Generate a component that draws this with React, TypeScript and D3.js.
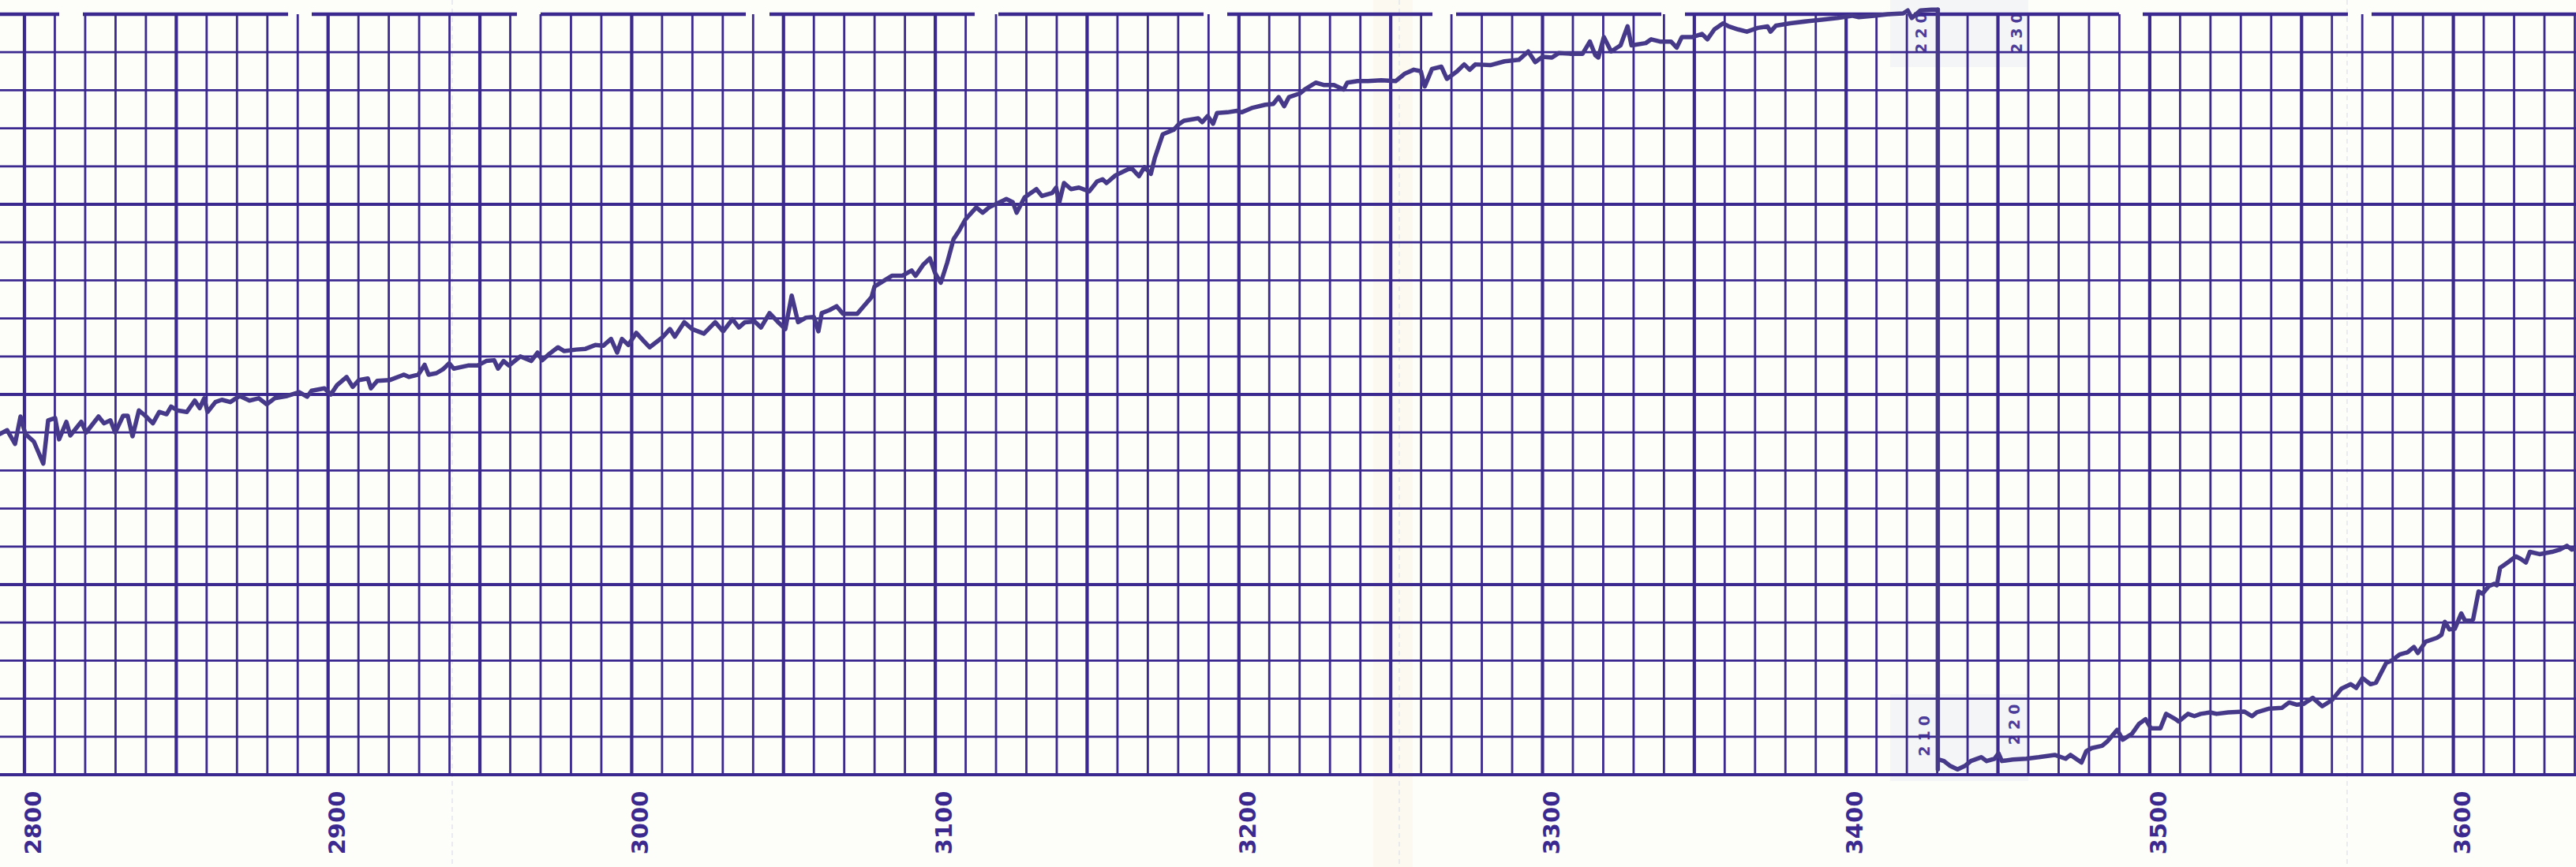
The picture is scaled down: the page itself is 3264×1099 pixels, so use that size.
import React from "react";
import * as d3 from "d3";

// ---------- data (wavenumber, % transmittance) ----------
const upperTrace: [number, number][] = [
  [2791.9, 44.8], [2794.3, 45.3], [2796.9, 43.5], [2798.7, 47.1], [2800.3, 44.8], [2803.1, 43.8],
  [2806.2, 40.9], [2807.8, 46.6], [2810.1, 46.9], [2811.4, 44.1], [2813.8, 46.4], [2815.1, 44.6],
  [2818.7, 46.4], [2820.3, 45.0], [2824.4, 47.1], [2826.2, 46.2], [2828.3, 46.6], [2829.9, 45.0],
  [2832.5, 47.2], [2834.0, 47.2], [2835.6, 44.5], [2837.7, 47.9], [2839.8, 47.2], [2842.3, 46.2],
  [2844.4, 47.7], [2846.8, 47.4], [2848.3, 48.4], [2850.4, 47.9], [2853.5, 47.7], [2856.1, 49.2],
  [2857.7, 48.2], [2859.2, 49.5], [2860.3, 47.7], [2862.9, 49.0], [2865.0, 49.3], [2867.8, 49.0],
  [2870.9, 49.8], [2874.1, 49.2], [2877.2, 49.5], [2879.8, 48.7], [2882.4, 49.5], [2886.5, 49.8],
  [2890.5, 50.3], [2893.1, 49.7], [2894.6, 50.5], [2898.8, 50.8], [2900.9, 50.0], [2902.9, 51.2],
  [2906.1, 52.3], [2908.1, 51.0], [2910.2, 51.9], [2913.1, 52.1], [2914.1, 50.8], [2916.2, 51.8],
  [2920.4, 51.9], [2925.0, 52.6], [2926.6, 52.3], [2929.7, 52.6], [2931.8, 53.9], [2933.1, 52.6],
  [2935.7, 52.8], [2937.8, 53.3], [2939.9, 54.1], [2941.4, 53.4], [2946.1, 53.8], [2949.2, 53.8],
  [2952.1, 54.4], [2954.7, 54.5], [2956.0, 53.4], [2957.8, 54.4], [2959.6, 53.8], [2963.3, 55.0],
  [2966.9, 54.4], [2969.0, 55.5], [2970.5, 54.5], [2973.1, 55.4], [2975.7, 56.2], [2977.8, 55.7],
  [2981.7, 55.9], [2984.8, 56.0], [2988.0, 56.5], [2990.6, 56.4], [2993.2, 57.3], [2995.2, 55.5],
  [2996.8, 57.3], [2998.9, 56.5], [3001.5, 58.1], [3003.8, 57.1], [3005.9, 56.2], [3008.5, 57.0],
  [3010.1, 57.5], [3012.6, 58.6], [3014.2, 57.6], [3017.3, 59.5], [3019.9, 58.6], [3023.8, 58.0],
  [3027.5, 59.5], [3030.1, 58.3], [3033.2, 59.9], [3035.3, 58.8], [3037.3, 59.5], [3040.5, 59.6],
  [3042.6, 58.8], [3045.4, 60.7], [3048.0, 59.6], [3050.6, 58.6], [3052.7, 63.0], [3054.8, 59.5],
  [3057.4, 60.1], [3060.0, 60.2], [3061.5, 58.3], [3062.6, 60.7], [3065.2, 61.1], [3067.5, 61.6],
  [3069.6, 60.6], [3074.3, 60.6], [3076.4, 61.6], [3079.0, 62.8], [3080.0, 64.2], [3085.7, 65.6],
  [3089.1, 65.6], [3092.2, 66.3], [3093.5, 65.6], [3096.1, 67.1], [3098.2, 67.9], [3100.0, 65.9],
  [3101.8, 64.7], [3103.9, 67.3], [3106.0, 70.4], [3107.8, 71.5], [3109.9, 73.0], [3113.5, 74.6],
  [3115.6, 73.9], [3117.7, 74.6], [3121.3, 75.3], [3123.4, 75.7], [3125.5, 75.3], [3126.8, 73.9],
  [3129.4, 75.9], [3133.3, 77.0], [3135.1, 76.1], [3138.5, 76.5], [3139.8, 77.2], [3140.8, 75.2],
  [3142.4, 77.8], [3144.7, 77.0], [3147.3, 77.2], [3150.7, 76.7], [3153.3, 78.0], [3155.1, 78.3],
  [3156.4, 77.8], [3159.3, 78.8], [3161.9, 79.3], [3164.5, 79.8], [3167.1, 78.7], [3168.9, 79.9],
  [3171.0, 79.0], [3172.3, 81.1], [3174.9, 84.2], [3178.5, 84.8], [3180.1, 85.5], [3181.9, 86.0],
  [3186.6, 86.3], [3187.9, 85.8], [3189.7, 86.6], [3191.5, 85.6], [3192.8, 87.0], [3196.2, 87.1],
  [3199.3, 87.3], [3200.9, 87.1], [3204.5, 87.7], [3208.7, 88.1], [3211.3, 88.2], [3213.1, 89.1],
  [3214.9, 87.9], [3216.5, 89.1], [3220.2, 89.6], [3221.7, 90.1], [3225.3, 91.0], [3227.9, 90.7],
  [3231.3, 90.7], [3234.5, 90.1], [3235.7, 91.0], [3239.1, 91.2], [3242.5, 91.2], [3246.9, 91.3],
  [3251.6, 91.2], [3254.7, 92.2], [3257.6, 92.7], [3259.9, 92.5], [3261.2, 90.5], [3263.6, 92.8],
  [3266.7, 93.1], [3268.5, 91.5], [3271.9, 92.5], [3274.2, 93.4], [3276.0, 92.7], [3277.9, 93.4],
  [3282.8, 93.3], [3287.5, 93.8], [3292.2, 94.0], [3295.3, 95.1], [3297.6, 93.7], [3300.0, 94.4],
  [3303.1, 94.3], [3305.4, 94.9], [3309.0, 94.8], [3313.2, 94.8], [3315.6, 96.4], [3317.4, 94.6],
  [3318.4, 94.3], [3320.2, 97.0], [3322.6, 95.1], [3325.7, 95.9], [3328.0, 98.4], [3329.3, 95.9],
  [3334.0, 96.2], [3335.8, 96.7], [3338.7, 96.4], [3342.3, 96.4], [3344.2, 95.6], [3345.9, 97.0],
  [3349.4, 97.0], [3352.5, 97.4], [3354.3, 96.7], [3356.6, 98.0], [3359.5, 98.8], [3361.3, 98.4],
  [3364.4, 98.0], [3367.3, 97.7], [3370.9, 98.2], [3374.1, 98.4], [3375.1, 97.7], [3376.9, 98.5],
  [3381.6, 98.8], [3387.6, 99.1], [3392.5, 99.3], [3397.2, 99.5], [3401.9, 99.8], [3404.2, 99.6],
  [3409.2, 99.8], [3413.8, 100.0], [3418.8, 100.1], [3420.3, 100.5], [3421.6, 99.5], [3424.5, 100.5],
  [3428.1, 100.6], [3430.2, 100.6],
];

// pen return stroke (vertical)
const penReturn: [number, number][] = [
  [3430.2, 100.6], [3430.2, 0.7],
];

const lowerTrace: [number, number][] = [
  [3430.4, 2.0], [3432.2, 1.8], [3434.1, 1.2], [3436.7, 0.7], [3439.3, 1.2], [3441.1, 1.8],
  [3444.5, 2.3], [3446.3, 1.8], [3448.9, 2.1], [3450.2, 2.8], [3451.3, 1.8], [3454.9, 2.0],
  [3459.3, 2.1], [3463.5, 2.3], [3468.7, 2.6], [3472.3, 2.1], [3473.9, 2.6], [3477.5, 1.6],
  [3479.1, 3.1], [3480.9, 3.5], [3484.3, 3.8], [3486.1, 4.4], [3489.3, 5.9], [3491.1, 4.6],
  [3494.2, 5.4], [3496.5, 6.7], [3498.6, 7.3], [3500.4, 6.1], [3503.5, 6.1], [3505.4, 8.0],
  [3508.5, 7.3], [3509.5, 7.0], [3512.6, 8.0], [3514.7, 7.7], [3516.8, 8.0], [3519.9, 8.2],
  [3522.0, 8.0], [3525.9, 8.2], [3531.1, 8.3], [3533.7, 7.7], [3535.3, 8.2], [3539.4, 8.7],
  [3543.6, 8.8], [3545.9, 9.5], [3548.5, 9.2], [3550.6, 9.3], [3553.7, 10.1], [3556.8, 9.0],
  [3560.0, 9.8], [3563.1, 11.3], [3566.2, 11.9], [3568.0, 11.4], [3570.1, 12.7], [3572.7, 11.9],
  [3574.5, 12.1], [3577.9, 14.7], [3579.7, 15.0], [3582.3, 15.8], [3584.9, 16.1], [3587.0, 16.8],
  [3588.3, 16.0], [3590.9, 17.5], [3594.6, 18.0], [3596.1, 18.4], [3597.2, 20.1], [3598.7, 19.1],
  [3600.5, 19.2], [3602.6, 21.2], [3603.9, 20.2], [3606.5, 20.4], [3608.3, 24.1], [3609.6, 23.8],
  [3611.7, 24.8], [3613.5, 25.1], [3614.3, 24.9], [3615.4, 27.2], [3617.9, 27.9], [3620.6, 28.7],
  [3622.1, 28.4], [3623.9, 27.9], [3625.2, 29.3], [3628.4, 29.0], [3632.5, 29.3], [3635.1, 29.6],
  [3637.4, 30.1], [3639.0, 29.6], [3640.5, 29.8],
];

const xTickLabels = [2800, 2900, 3000, 3100, 3200, 3300, 3400, 3500, 3600];
// chart-paper index numbers: [wavenumber position, percent position, text]
const indexNumbersTop: [number, number, string][] = [[3424.6, 97.8, "220"], [3456.1, 97.8, "230"]];
const indexNumbersBottom: [number, number, string][] = [[3425.7, 5.4, "210"], [3455.3, 6.9, "220"]];

// ---------- layout ----------
const W = 3264;
const H = 1099;
const GRID = "#3b2990";
const PEN = "#47398a";

export default function App() {
  const x = d3.scaleLinear().domain([2800, 3640]).range([31, 31 + 840 * 3.847]);
  const y = d3.scaleLinear().domain([0, 100]).range([982, 18]);

  const line = d3
    .line<[number, number]>()
    .x((d) => x(d[0]))
    .y((d) => y(d[1]))
    .curve(d3.curveLinear);

  const vTicks = d3.range(2790, 3650, 10).filter((v) => x(v) >= 0 && x(v) <= W);
  const hTicks = d3.range(0, 101, 5);

  // top border segments (paper has periodic gaps in the printed top edge)
  const topSegs: [number, number][] = [];
  let start = 0;
  for (let g = 75; g < W; g += 290) {
    topSegs.push([start, g]);
    start = g + 30;
  }
  topSegs.push([start, W]);

  return (
    <svg
      width={W}
      height={H}
      style={{ position: "absolute", left: 0, top: 0, background: "#fdfdf9" }}
      xmlns="http://www.w3.org/2000/svg"
    >
      <rect x={0} y={0} width={W} height={H} fill="#fdfdf9" />
      {/* faint paper tints */}
      <rect x={1740} y={0} width={50} height={H} fill="#fbf8ea" opacity={0.6} />
      <rect x={2395} y={0} width={175} height={85} fill="#e6ecf5" opacity={0.45} />
      <rect x={2395} y={880} width={175} height={110} fill="#e6ecf5" opacity={0.45} />
      {[573, 1773, 2974].map((px) => (
        <line key={px} x1={px} x2={px} y1={0} y2={H} stroke="#dcdfe9" strokeWidth={1.2} strokeDasharray="6 5" />
      ))}

      {/* vertical grid */}
      {vTicks.map((v) => {
        const major = Math.round(v) % 50 === 0;
        return (
          <line
            key={"v" + v}
            x1={x(v)}
            x2={x(v)}
            y1={y(100)}
            y2={y(0)}
            stroke={GRID}
            strokeWidth={major ? 4.2 : 2.8}
          />
        );
      })}
      {/* horizontal grid */}
      {hTicks.map((p) =>
        p === 100 ? null : (
          <line
            key={"h" + p}
            x1={0}
            x2={W}
            y1={y(p)}
            y2={y(p)}
            stroke={GRID}
            strokeWidth={p % 25 === 0 ? 4.2 : 2.8}
          />
        )
      )}
      {topSegs.map(([a, b], i) => (
        <line key={"t" + i} x1={a} x2={b} y1={y(100)} y2={y(100)} stroke={GRID} strokeWidth={4.4} />
      ))}

      {/* x labels */}
      {xTickLabels.map((v) => (
        <text
          key={"l" + v}
          transform={`translate(${x(v) + 11},${1043}) rotate(-90)`}
          textAnchor="middle"
          dominantBaseline="central"
          fontFamily="'DejaVu Sans', sans-serif"
          fontWeight="bold"
          fontSize={29}
          fill={GRID}
        >
          {v}
        </text>
      ))}

      {/* chart paper index numbers */}
      {[...indexNumbersTop, ...indexNumbersBottom].map(([v, p, t], i) => (
        <text
          key={"n" + i}
          transform={`translate(${x(v)},${y(p)}) rotate(-90)`}
          textAnchor="middle"
          dominantBaseline="central"
          fontFamily="'DejaVu Sans', sans-serif"
          fontWeight="bold"
          fontSize={19}
          letterSpacing={6}
          fill={GRID}
          opacity={0.9}
        >
          {t}
        </text>
      ))}

      {/* pen traces */}
      <g fill="none" stroke={PEN} strokeLinejoin="round" strokeLinecap="round">
        <path d={line(upperTrace) ?? ""} strokeWidth={5.5} />
        <path d={line(penReturn) ?? ""} strokeWidth={5.5} />
        <path d={line(lowerTrace) ?? ""} strokeWidth={5.5} />
      </g>
    </svg>
  );
}
